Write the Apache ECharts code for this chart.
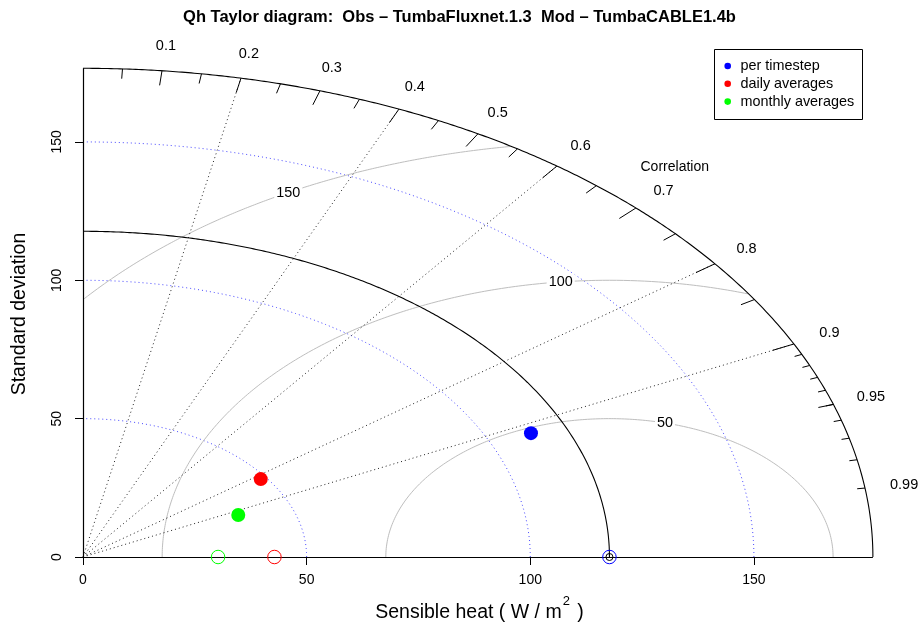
<!DOCTYPE html>
<html>
<head>
<meta charset="utf-8">
<script src="https://cdn.jsdelivr.net/npm/echarts@6/dist/echarts.min.js"></script>
<style>html,body{margin:0;padding:0;background:#fff}#c{width:919px;height:629px}</style>
</head>
<body>
<div id="c"></div>
<script>
// ---- data ----
const maxSD = 176.6;                 // outer radius of the diagram
const axisTickValues = [0, 50, 100, 150];
const sdArcRadii = [50, 100, 150];   // blue dotted SD arcs
const rmsArcRadii = [50, 100, 150];  // grey centred-RMS arcs
const rmsLabelAngles = [1.32, 1.68, 2.07]; // radians, along grey arcs
const corrRays = [0.2, 0.4, 0.6, 0.8, 0.9];
const bigTicks = [0.1, 0.2, 0.3, 0.4, 0.5, 0.6, 0.7, 0.8, 0.9];
const medTicks = [0.05, 0.15, 0.25, 0.35, 0.45, 0.55, 0.65, 0.75, 0.85, 0.95];
const smallTicks = [0.91, 0.92, 0.93, 0.94, 0.95, 0.96, 0.97, 0.98, 0.99];
const corrLabelValues = [0.1, 0.2, 0.3, 0.4, 0.5, 0.6, 0.7, 0.8, 0.9, 0.95, 0.99];
const corrLabels = ['0.1', '0.2', '0.3', '0.4', '0.5', '0.6', '0.7', '0.8', '0.9', '0.95', '0.99'];
const seriesNames = ['per timestep', 'daily averages', 'monthly averages'];
const seriesColors = ['#0000ff', '#ff0000', '#00ff00'];
const modelSD = [109.7, 48.7, 37.9];
const modelCorr = [0.913, 0.816, 0.916];
const obsSD = [117.7, 42.8, 30.2];

const FONT = '"Liberation Sans", Arial, Helvetica, sans-serif';
const refSD = obsSD[0];

function polar(r, c) { const a = Math.acos(c); return [r * Math.cos(a), r * Math.sin(a)]; }
function arc(r, cx, t0, t1, n) {
  const pts = [];
  for (let i = 0; i <= n; i++) { const t = t0 + (t1 - t0) * i / n; pts.push([cx + r * Math.cos(t), r * Math.sin(t)]); }
  return pts;
}
function rmsArc(g) {
  const pts = [];
  const n = 800;
  for (let i = 0; i <= n; i++) {
    const t = Math.PI * i / n;
    const x = refSD + g * Math.cos(t), y = g * Math.sin(t);
    if (x < 0) break;
    if (x * x + y * y <= maxSD * maxSD) pts.push([x, y]);
  }
  return pts;
}
function lineSeries(data, color, width, type, z) {
  return { type: 'line', data: data, showSymbol: false, symbol: 'none', silent: true, animation: false,
    lineStyle: { color: color, width: width, type: type || 'solid' }, z: z || 2, clip: false };
}
function segSeries(segs, color, width, type, z) {
  return { type: 'lines', coordinateSystem: 'cartesian2d', silent: true, animation: false, z: z || 2, clip: false,
    lineStyle: { color: color, width: width, type: type || 'solid', opacity: 1 },
    data: segs.map(s => ({ coords: s })) };
}
function textSeries(data, size, extra, z) {
  return { type: 'scatter', symbolSize: 0, silent: true, animation: false, z: z || 4, clip: false,
    data: data,
    label: Object.assign({ show: true, position: 'inside', formatter: p => p.data[2], color: '#000', fontSize: size, fontFamily: FONT, opacity: 1 }, extra || {}) };
}

const series = [];
// blue dotted SD arcs
sdArcRadii.forEach(r => series.push(lineSeries(arc(r, 0, 0, Math.PI / 2, 200), 'rgba(40,40,255,0.85)', 1, [1, 3], 1)));
// grey RMS arcs
rmsArcRadii.forEach(g => series.push(lineSeries(rmsArc(g), '#bebebe', 1, 'solid', 1)));
// correlation rays
series.push(segSeries(corrRays.map(c => [[0, 0], polar(maxSD, c)]), '#222', 1, [1, 3], 2));
// reference SD arc
series.push(lineSeries(arc(refSD, 0, 0, Math.PI / 2, 300), '#000', 1.1, 'solid', 3));
// outer arc
series.push(lineSeries(arc(maxSD, 0, 0, Math.PI / 2, 400), '#000', 1.1, 'solid', 3));
// axes lines
series.push(segSeries([[[0, 0], [maxSD, 0]], [[0, 0], [0, maxSD]]], '#000', 1.2, 'solid', 3));
// correlation ticks
series.push(segSeries(bigTicks.map(c => [polar(maxSD, c), polar(maxSD * 0.97, c)]), '#000', 1, 'solid', 3));
series.push(segSeries(medTicks.map(c => [polar(maxSD, c), polar(maxSD * 0.98, c)]), '#000', 1, 'solid', 3));
series.push(segSeries(smallTicks.map(c => [polar(maxSD, c), polar(maxSD * 0.99, c)]), '#000', 1, 'solid', 3));
// correlation labels
series.push(textSeries(corrLabelValues.map((c, i) => { const p = polar(maxSD * 1.05, c); return [p[0], p[1], corrLabels[i]]; }), 14.5));
// "Correlation" label
series.push(textSeries([[132.3, 141, 'Correlation']], 14));
// RMS labels
series.push(textSeries(rmsArcRadii.map((g, i) => [refSD + g * Math.cos(rmsLabelAngles[i]), g * Math.sin(rmsLabelAngles[i]), String(g)]),
  14.4, { backgroundColor: '#fff', padding: [1, 2] }));
// observed SD open circles
seriesNames.forEach((nm, i) => {
  series.push({ type: 'scatter', name: nm + ' obs', silent: true, animation: false, z: 6, symbol: 'circle', symbolSize: 13.5, clip: false,
    itemStyle: { color: 'rgba(0,0,0,0)', borderColor: seriesColors[i], borderWidth: 1, opacity: 1 },
    data: [[obsSD[i], 0]] });
});
// reference point (black)
series.push({ type: 'scatter', silent: true, animation: false, z: 7, symbol: 'circle', symbolSize: 7, clip: false,
  itemStyle: { color: 'rgba(0,0,0,0)', borderColor: '#000', borderWidth: 1, opacity: 1 }, data: [[refSD, 0]] });
// model points
seriesNames.forEach((nm, i) => {
  series.push({ type: 'scatter', name: nm, silent: true, animation: false, z: 8, symbol: 'circle', symbolSize: 14, clip: false,
    itemStyle: { color: seriesColors[i], opacity: 1 }, data: [polar(modelSD[i], modelCorr[i])] });
});

const legendGraphics = [{ type: 'rect', left: 714, top: 49, shape: { width: 148, height: 70 },
  style: { fill: '#fff', stroke: '#000', lineWidth: 1 }, z: 100 }];
seriesNames.forEach((nm, i) => {
  const cy = 66 + i * 17.8;
  legendGraphics.push({ type: 'circle', shape: { cx: 727.7, cy: cy, r: 3.3 }, style: { fill: seriesColors[i] }, z: 101 });
  legendGraphics.push({ type: 'text', x: 740.5, y: cy, style: { text: nm, fill: '#000', font: '14.4px ' + FONT, textVerticalAlign: 'middle', verticalAlign: 'middle' }, z: 101 });
});

const chart = echarts.init(document.getElementById('c'), null, { renderer: 'canvas' });
chart.setOption({
  animation: false,
  backgroundColor: '#fff',
  title: { text: 'Qh Taylor diagram:  Obs \u2013 TumbaFluxnet.1.3  Mod \u2013 TumbaCABLE1.4b', left: 'center', top: 4,
    textStyle: { fontSize: 16.5, fontWeight: 'bold', fontFamily: FONT, color: '#000' } },
  grid: { left: 83, right: 30.9, top: 58.9, bottom: 72, containLabel: false },
  xAxis: { type: 'value', min: 0, max: 180, interval: 50,
    axisLine: { show: false }, splitLine: { show: false },
    axisTick: { show: true, length: 8, customValues: axisTickValues, lineStyle: { color: '#000' } },
    axisLabel: { customValues: axisTickValues, margin: 16.5, fontSize: 14, color: '#000', fontFamily: FONT,
      formatter: v => axisTickValues.indexOf(v) >= 0 ? String(v) : '' } },
  yAxis: { type: 'value', min: 0, max: 180, interval: 50,
    axisLine: { show: false }, splitLine: { show: false },
    axisTick: { show: true, length: 8, customValues: axisTickValues, lineStyle: { color: '#000' } },
    axisLabel: { customValues: axisTickValues, margin: 19, rotate: 90, fontSize: 14, color: '#000', fontFamily: FONT,
      formatter: v => axisTickValues.indexOf(v) >= 0 ? String(v) : '' } },
  graphic: legendGraphics.concat([
    { type: 'text', x: 479.5, y: 609, z: 50,
      style: { text: '{b|Sensible heat ( W / m}{sup|2}{b| )}', fill: '#000', font: '19.5px ' + FONT, align: 'center', verticalAlign: 'middle',
        textAlign: 'center', textVerticalAlign: 'middle',
        rich: {
          b: { fontSize: 19.5, fontFamily: FONT, lineHeight: 28, verticalAlign: 'bottom' },
          sup: { fontSize: 13, fontFamily: FONT, lineHeight: 13, verticalAlign: 'top', padding: [0, 2, 0, 1] }
        } } },
    { type: 'text', x: 20, y: 314, rotation: Math.PI / 2, z: 50,
      style: { text: 'Standard deviation', fill: '#000', font: '19.5px ' + FONT, align: 'center', verticalAlign: 'middle',
        textAlign: 'center', textVerticalAlign: 'middle' } }
  ]),
  series: series
});
</script>
</body>
</html>
